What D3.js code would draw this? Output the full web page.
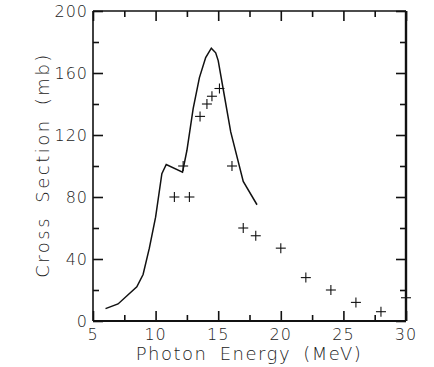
<!DOCTYPE html>
<html>
<head>
<meta charset="utf-8">
<script src="https://cdn.jsdelivr.net/npm/d3@7"></script>
<style>
  body { margin: 0; background: #fff; }
  text { font-family: "DejaVu Sans", sans-serif; font-weight: 200; fill: #222; }
</style>
</head>
<body>
<svg id="chart" width="434" height="367"></svg>
<script>
// theory curve (energy in MeV, cross section in mb)
var curveE = [6, 7, 8.5, 9, 9.5, 10, 10.5, 10.85, 12.15, 12.5, 13, 13.5, 14, 14.45, 14.8, 15, 15.5, 16, 17, 18.1];
var curveS = [8, 11, 22, 30, 47, 67, 95, 101, 96, 110, 137, 157, 170, 176, 173, 168, 145, 122, 90, 75];

// measured points
var pointE = [11.5, 12.7, 12.2, 13.55, 14.1, 14.5, 15.1, 16.1, 17, 18, 20, 22, 24, 26, 28, 30];
var pointS = [80, 80, 100, 132, 140, 145, 150, 100, 60, 55, 47, 28, 20, 12, 6, 15];

var xMajor = [5, 10, 15, 20, 25, 30];
var xMinor = [7.5, 12.5, 17.5, 22.5, 27.5];
var yMajor = [0, 40, 80, 120, 160, 200];
var yMinor = [20, 60, 100, 140, 180];

var svg = d3.select("#chart");
var padL = 93, padR = 406, padT = 11, padB = 321;

var x = d3.scaleLinear().domain([5, 30]).range([padL, padR]);
var y = d3.scaleLinear().domain([0, 200]).range([padB, padT]);

function tickAxis(axis, vals, size, tr) {
  var g = svg.append("g").attr("transform", tr)
    .call(axis.tickValues(vals).tickSize(-size).tickFormat(""));
  g.select(".domain").remove();
  g.selectAll(".tick line").attr("stroke", "#111").attr("stroke-width", 1.6);
  return g;
}

tickAxis(d3.axisBottom(x), xMajor, 10, "translate(0," + padB + ")");
tickAxis(d3.axisBottom(x), xMinor, 6, "translate(0," + padB + ")");
tickAxis(d3.axisTop(x), xMajor, 10, "translate(0," + padT + ")");
tickAxis(d3.axisTop(x), xMinor, 6, "translate(0," + padT + ")");
tickAxis(d3.axisLeft(y), yMajor, 10, "translate(" + padL + ",0)");
tickAxis(d3.axisLeft(y), yMinor, 6, "translate(" + padL + ",0)");
tickAxis(d3.axisRight(y), yMajor, 10, "translate(" + padR + ",0)");
tickAxis(d3.axisRight(y), yMinor, 6, "translate(" + padR + ",0)");

// frame
svg.append("line").attr("x1", padL).attr("x2", padR).attr("y1", padT).attr("y2", padT)
  .attr("stroke", "#111").attr("stroke-width", 1.5);
svg.append("line").attr("x1", padL).attr("x2", padR).attr("y1", padB).attr("y2", padB)
  .attr("stroke", "#111").attr("stroke-width", 2);
svg.append("line").attr("x1", padL).attr("x2", padL).attr("y1", padT).attr("y2", padB)
  .attr("stroke", "#111").attr("stroke-width", 1.6);
svg.append("line").attr("x1", padR).attr("x2", padR).attr("y1", padT).attr("y2", padB)
  .attr("stroke", "#111").attr("stroke-width", 2.4);

// tick labels
svg.selectAll(".xl").data(xMajor).enter().append("text")
  .attr("x", function (d) { return x(d); })
  .attr("y", 340)
  .attr("text-anchor", "middle")
  .attr("font-size", 16)
  .attr("letter-spacing", 1)
  .text(function (d) { return d; });

svg.selectAll(".yl").data(yMajor).enter().append("text")
  .attr("x", 88)
  .attr("y", function (d) { return y(d) + 6; })
  .attr("text-anchor", "end")
  .attr("font-size", 16)
  .attr("letter-spacing", 1)
  .text(function (d) { return d; });

// axis titles
svg.append("text")
  .attr("x", 249).attr("y", 360)
  .attr("text-anchor", "middle")
  .attr("font-size", 18)
  .attr("letter-spacing", 1.5)
  .attr("word-spacing", 5)
  .text("Photon Energy (MeV)");

svg.append("text")
  .attr("transform", "translate(49,165) rotate(-90)")
  .attr("text-anchor", "middle")
  .attr("font-size", 18)
  .attr("letter-spacing", 2.5)
  .attr("word-spacing", 5)
  .text("Cross Section (mb)");

// curve
var line = d3.line()
  .x(function (d) { return x(d[0]); })
  .y(function (d) { return y(d[1]); });

svg.append("path")
  .datum(d3.zip(curveE, curveS))
  .attr("d", line)
  .attr("fill", "none")
  .attr("stroke", "#111")
  .attr("stroke-width", 1.5);

// crosses
var pts = svg.selectAll(".pt").data(d3.zip(pointE, pointS)).enter().append("g")
  .attr("transform", function (d) { return "translate(" + x(d[0]) + "," + y(d[1]) + ")"; });
pts.append("line").attr("x1", -5).attr("x2", 5).attr("y1", 0).attr("y2", 0)
  .attr("stroke", "#111").attr("stroke-width", 1.1);
pts.append("line").attr("x1", 0).attr("x2", 0).attr("y1", -5).attr("y2", 5)
  .attr("stroke", "#111").attr("stroke-width", 1.1);
</script>
</body>
</html>
